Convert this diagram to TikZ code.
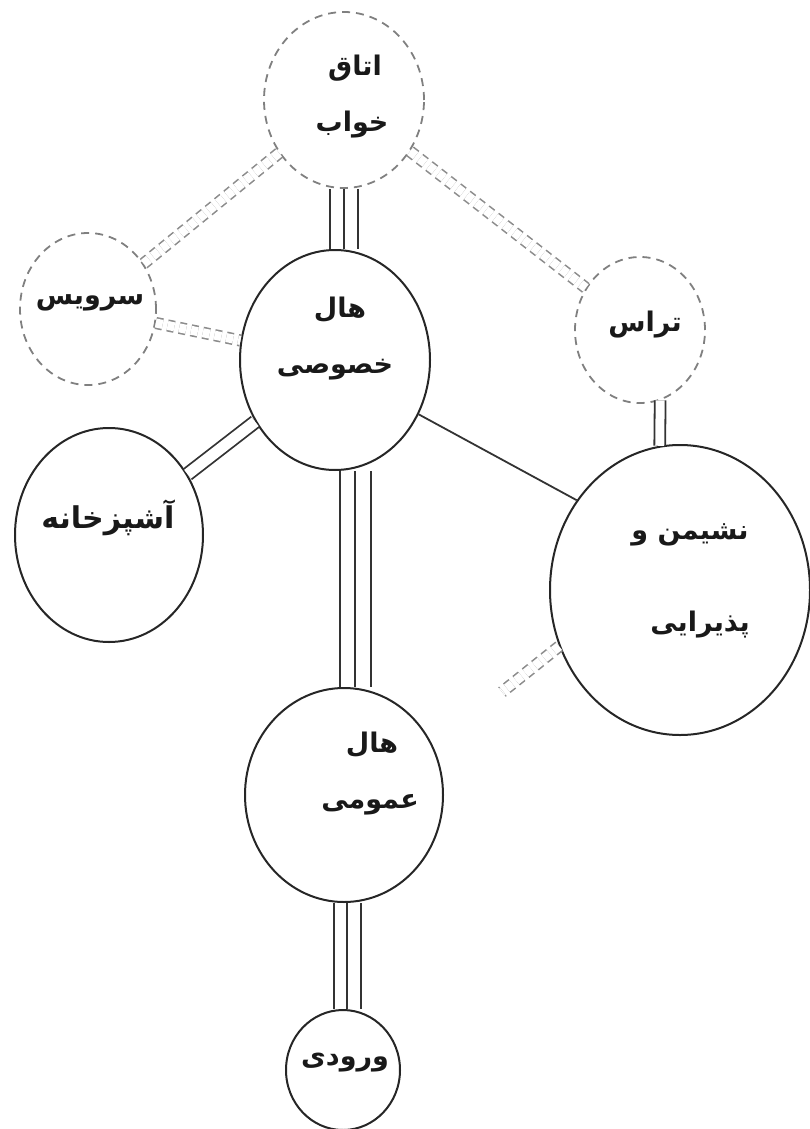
\documentclass[tikz,border=0pt]{standalone}
\usepackage{fontspec}
\newfontfamily\arabicfont[Script=Arabic]{DejaVu Sans}
\TeXXeTstate=1
\usetikzlibrary{shapes.geometric,calc}
\tikzset{
  room/.style={ellipse, draw=black!85, line width=2pt, inner sep=0pt},
  faintroom/.style={ellipse, draw=black!50, line width=1.8pt, inner sep=0pt, dash pattern=on 8pt off 6pt},
  lbl/.style={font=\arabicfont\bfseries\fontsize{27}{32}\selectfont, text=black!90},
  link/.style={draw=black!80, line width=1.8pt},
  faintlink/.style={draw=black!45, line width=1.6pt, dash pattern=on 7pt off 5pt},
}
\begin{document}
\begin{tikzpicture}[x=1pt,y=-1pt]
\useasboundingbox (0,0) rectangle (809,1129);
% rooms
\node[faintroom, minimum width=160pt, minimum height=176pt] (bed) at (344,100) {};
\node[faintroom, minimum width=136pt, minimum height=152pt] (svc) at (88,309) {};
\node[room, minimum width=190pt, minimum height=220pt] (ph) at (335,360) {};
\node[faintroom, minimum width=130pt, minimum height=146pt] (terr) at (640,330) {};
\node[room, minimum width=188pt, minimum height=214pt] (kit) at (109,535) {};
\node[room, minimum width=260pt, minimum height=290pt] (liv) at (680,590) {};
\node[room, minimum width=198pt, minimum height=214pt] (pub) at (344,795) {};
\node[room, minimum width=114pt, minimum height=120pt] (ent) at (343,1070) {};
% labels
\node[lbl] (tbed1) at (355,68) {\beginR اتاق\endR};
\node[lbl] (tbed2) at (352,125) {\beginR خواب\endR};
\node[lbl] (tsvc) at (90,303) {\beginR سرویس\endR};
\node[lbl] (tph1) at (340,310) {\beginR هال\endR};
\node[lbl] (tph2) at (335,370) {\beginR خصوصی\endR};
\node[lbl] (tterr) at (645,325) {\beginR تراس\endR};
\node[lbl, font=\arabicfont\bfseries\fontsize{30}{34}\selectfont] (tkit) at (108,518) {\beginR آشپزخانه\endR};
\node[lbl] (tliv1) at (690,535) {\beginR نشیمن و\endR};
\node[lbl] (tliv2) at (700,625) {\beginR پذیرایی\endR};
\node[lbl] (tpub1) at (372,745) {\beginR هال\endR};
\node[lbl] (tpub2) at (370,805) {\beginR عمومی\endR};
\node[lbl] (tent) at (345,1063) {\beginR ورودی\endR};
% connectors
\foreach \x in {330,344,358}
  \draw[link] (\x,0 |- bed.south) -- (\x,0 |- ph.north);
\foreach \x in {340,355,371}
  \draw[link] (\x,0 |- ph.south) -- (\x,0 |- pub.north);
\foreach \x in {334,347,361}
  \draw[link] (\x,0 |- pub.south) -- (\x,0 |- ent.north);
\draw[faintlink, double, double distance=9pt] (bed) -- (svc);
\draw[faintlink, double, double distance=9pt] (bed) -- (terr);
\draw[faintlink, double, double distance=9pt] (svc) -- (ph);
\draw[link, double, double distance=11pt] (kit) -- (ph);
\draw[link] (ph.-33) -- (liv.139);
\draw[link, double, double distance=9pt] (terr.-74) -- (liv.98);
\coordinate (stub) at (502,692);
\draw[faintlink, double, double distance=9pt] (liv.205) -- (stub);
\end{tikzpicture}
\end{document}
